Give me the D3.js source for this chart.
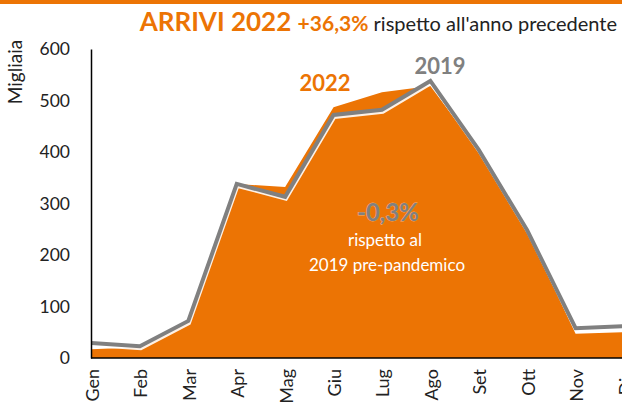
<!DOCTYPE html>
<html><head><meta charset="utf-8">
<script src="https://cdn.jsdelivr.net/npm/d3@7"></script>
<style>
html,body{margin:0;padding:0;background:#fff;overflow:hidden}
svg{display:block;font-family:Lato,"Open Sans",sans-serif}
</style></head>
<body><svg id="c" width="622" height="403"></svg>
<script>
const months = ["Gen","Feb","Mar","Apr","Mag","Giu","Lug","Ago","Set","Ott","Nov","Dic"];
const arrivi2022 = [17,21,72,338,332,487,516,528,402,245,47,50];
const arrivi2019 = [29,23,72,338,313,472,482,538,404,248,58,62];
const yTicks = [0,100,200,300,400,500,600];

const ORANGE = "#EC7404", GRAY = "#808080";
const svg = d3.select("#c");
const x = d3.scalePoint().domain(months).range([91.5, 624]);
const y = d3.scaleLinear().domain([0, 600]).range([358, 49]);

// top band
svg.append("rect").attr("x",0).attr("y",0).attr("width",622).attr("height",4).attr("fill",ORANGE);

// area 2022
const area = d3.area().x((d,i)=>x(months[i])).y0(y(0)).y1(d=>y(d));
svg.append("path").datum(arrivi2022).attr("d",area).attr("fill",ORANGE);

// 2019 line with white shadow
const line = d3.line().x((d,i)=>x(months[i])).y(d=>y(d));
svg.append("path").datum(arrivi2019).attr("d",line).attr("fill","none")
  .attr("stroke","#fff").attr("stroke-width",3).attr("stroke-linejoin","miter")
  .attr("transform","translate(1,2.5)").attr("opacity",0.9);
svg.append("path").datum(arrivi2019).attr("d",line).attr("fill","none")
  .attr("stroke",GRAY).attr("stroke-width",4).attr("stroke-linejoin","miter");

// y axis
const ya = svg.append("g").attr("transform","translate(91,0)")
  .call(d3.axisLeft(y).tickValues(yTicks).tickSize(0).tickPadding(21).tickFormat(d3.format("d")));
ya.select(".domain").attr("stroke","#000").attr("stroke-width",1.5);
ya.selectAll("text").attr("font-size",17.5).attr("fill","#222").attr("font-family","Lato");

// x axis
const xa = svg.append("g").attr("transform","translate(0,358)")
  .call(d3.axisBottom(x).tickSize(0).tickPadding(0));
xa.select(".domain").attr("stroke","#000").attr("stroke-width",1.5).attr("d","M91,0H640");
xa.selectAll("text").attr("font-size",18).attr("fill","#222").attr("font-family","Lato")
  .attr("text-anchor","end").attr("dy",null).attr("dx",null)
  .attr("transform","translate(0,11) rotate(-90)").attr("y",0).attr("x",0).attr("dominant-baseline","central");

// y title
svg.append("text").attr("transform","translate(14,72) rotate(-90)").attr("text-anchor","middle")
  .attr("dominant-baseline","central").attr("font-size",19).attr("fill","#222").text("Migliaia");

// title
const t = svg.append("text").attr("x",617).attr("y",31).attr("text-anchor","end");
t.append("tspan").attr("font-weight","bold").attr("font-size",26).attr("fill",ORANGE).text("ARRIVI 2022 ");
t.append("tspan").attr("font-weight","bold").attr("font-size",21).attr("fill",ORANGE).text("+36,3% ");
t.append("tspan").attr("font-size",20).attr("fill","#222").text("rispetto all'anno precedente");

// series labels
svg.append("text").attr("x",325).attr("y",91).attr("text-anchor","middle").attr("font-weight","bold")
  .attr("font-size",22).attr("fill",ORANGE).text("2022");
svg.append("text").attr("x",440).attr("y",74).attr("text-anchor","middle").attr("font-weight","bold")
  .attr("font-size",22).attr("fill",GRAY).text("2019");

// annotation
svg.append("text").attr("x",388).attr("y",221).attr("text-anchor","middle").attr("font-weight","bold")
  .attr("font-size",24).attr("fill",GRAY).attr("stroke","#f7b27a").attr("stroke-width",0.8)
  .attr("paint-order","stroke").text("-0,3%");
svg.append("text").attr("x",385).attr("y",246).attr("text-anchor","middle")
  .attr("font-size",17).attr("fill","#fff").text("rispetto al");
svg.append("text").attr("x",387).attr("y",271).attr("text-anchor","middle")
  .attr("font-size",17).attr("fill","#fff").text("2019 pre-pandemico");
</script></body></html>
